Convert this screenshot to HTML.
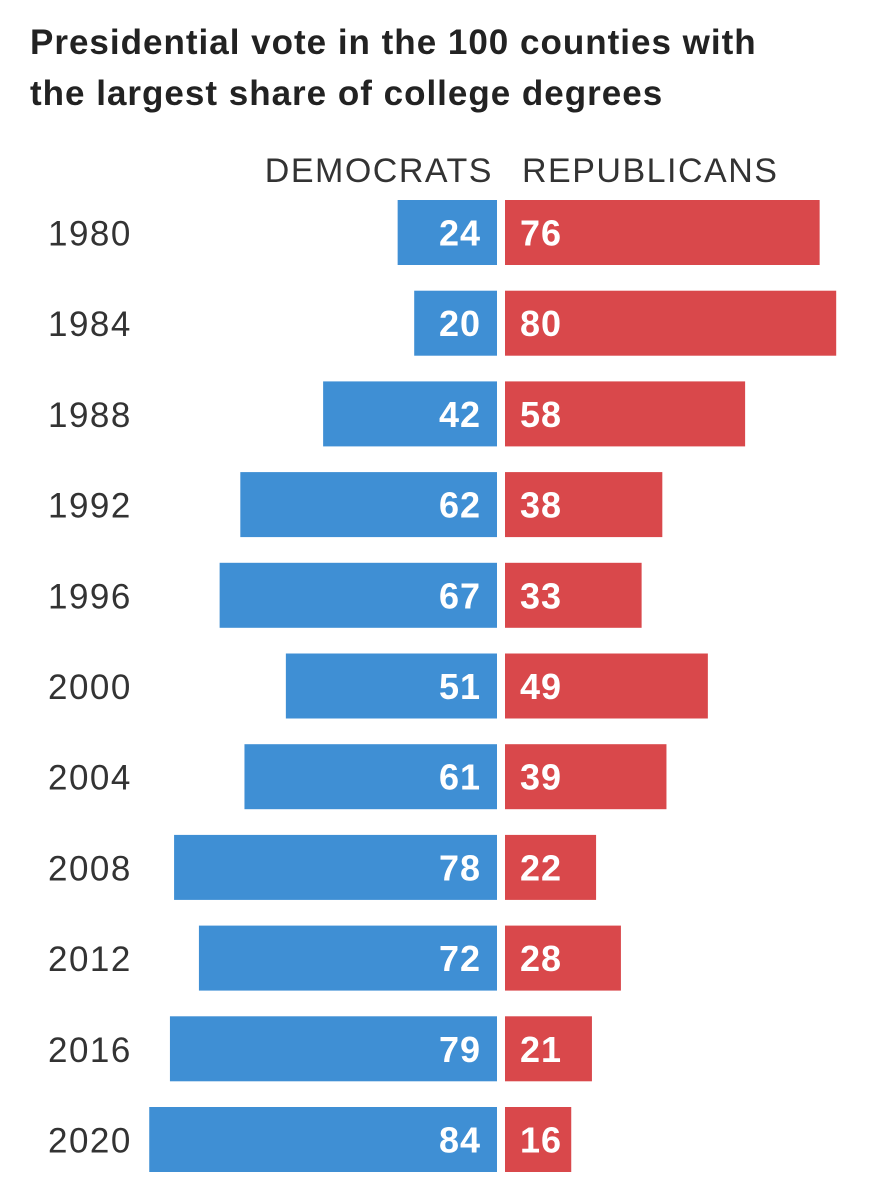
<!DOCTYPE html>
<html><head><meta charset="utf-8"><style>
html,body{margin:0;padding:0;background:#fff;}
svg{display:block;font-family:"Liberation Sans",sans-serif;}
</style></head><body>
<svg width="884" height="1200" viewBox="0 0 884 1200">
<text x="30" y="54" font-size="35" font-weight="bold" letter-spacing="1" fill="#222">Presidential vote in the 100 counties with</text>
<text x="30" y="105" font-size="35" font-weight="bold" letter-spacing="1" fill="#222">the largest share of college degrees</text>
<text x="493" y="182" font-size="34" letter-spacing="1.5" fill="#333" text-anchor="end">DEMOCRATS</text>
<text x="522" y="182" font-size="34" letter-spacing="1.5" fill="#333">REPUBLICANS</text>
<g id="bars"></g>
</svg>
<script>
const years = ["1980","1984","1988","1992","1996","2000","2004","2008","2012","2016","2020"];
const demValues = [24,20,42,62,67,51,61,78,72,79,84];
const repValues = [76,80,58,38,33,49,39,22,28,21,16];

const NS = "http://www.w3.org/2000/svg";
const g = document.getElementById("bars");
const unit = 4.14;
const demRight = 497, repLeft = 505;
const rowTop = 200, rowStep = 90.7, barH = 65;
const xDem = v => demRight - v * unit;
const wScale = v => v * unit;
const yRow = i => rowTop + i * rowStep;

function mk(tag, attrs) {
  const e = document.createElementNS(NS, tag);
  for (const k in attrs) e.setAttribute(k, attrs[k]);
  return e;
}
years.forEach((yr, i) => {
  const y = yRow(i);
  const lbl = mk("text", {x: 48, y: y + barH/2 + 13, "font-size": 35, "letter-spacing": 1.5, fill: "#333"});
  lbl.textContent = yr;
  
  
  g.appendChild(lbl);

  const d = mk("rect", {x: xDem(demValues[i]), y: y, width: wScale(demValues[i]), height: barH, fill: "#3f8fd4"});
  
  
  g.appendChild(d);

  const r = mk("rect", {x: repLeft, y: y, width: wScale(repValues[i]), height: barH, fill: "#d9484b"});
  
  
  g.appendChild(r);

  const dv = mk("text", {x: 481, y: y + barH/2 + 13, "font-size": 36, "font-weight": "bold", "letter-spacing": 1, fill: "#fff", "text-anchor": "end"});
  dv.textContent = demValues[i];
  
  
  g.appendChild(dv);

  const rv = mk("text", {x: 520, y: y + barH/2 + 13, "font-size": 36, "font-weight": "bold", "letter-spacing": 1, fill: "#fff"});
  rv.textContent = repValues[i];
  
  
  g.appendChild(rv);
});
</script>
</body></html>
